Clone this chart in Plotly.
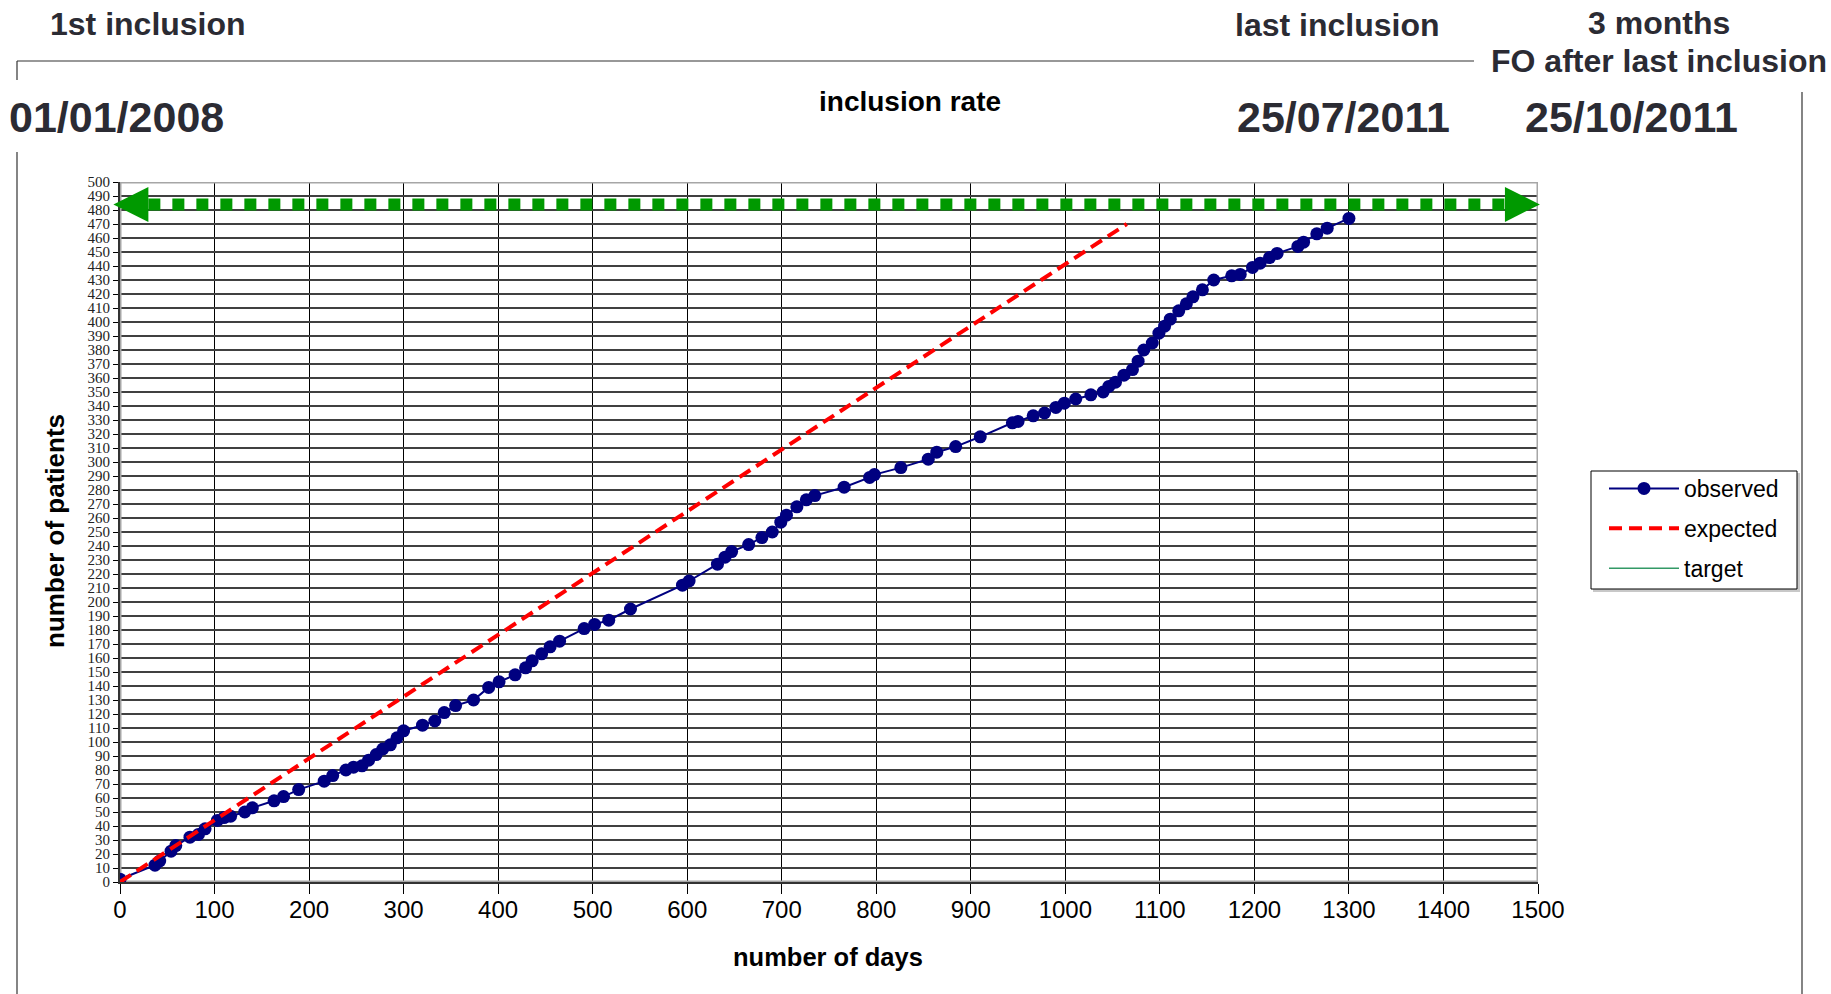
import plotly.graph_objects as go

# ---------------- data ----------------
obs_days = [0, 37, 42, 54, 59, 74, 83, 90, 103, 110, 117, 132, 140, 163, 173, 189,
            216, 225, 239, 247, 256, 263, 271, 278, 286, 293, 300, 320, 333, 343,
            355, 374, 390, 401, 418, 429, 436, 446, 455, 465, 491, 502, 517, 540,
            595, 602, 632, 640, 647, 665, 679, 690, 699, 705, 716, 726, 735, 766,
            793, 798, 826, 855, 864, 884, 910, 944, 950, 966, 978, 990, 999, 1011,
            1027, 1040, 1046, 1053, 1062, 1071, 1077, 1083, 1092, 1099, 1105, 1111,
            1120, 1128, 1135, 1145, 1157, 1176, 1185, 1198, 1206, 1216, 1224, 1246,
            1252, 1266, 1277, 1300]
obs_patients = [2, 12, 15, 22, 26, 32, 34, 38, 44, 46, 47, 50, 53, 58, 61, 66,
                72, 76, 80, 82, 83, 87, 91, 95, 98, 103, 108, 112, 115, 121,
                126, 130, 139, 143, 148, 153, 158, 163, 168, 172, 181, 184, 187, 195,
                212, 215, 227, 232, 236, 241, 246, 250, 257, 262, 268, 273, 276, 282,
                289, 291, 296, 302, 307, 311, 318, 328, 329, 333, 335, 339, 342, 345,
                348, 350, 354, 357, 362, 366, 372, 380, 385, 392, 397, 402,
                408, 413, 418, 423, 430, 433, 434, 439, 442, 446, 449, 454,
                457, 463, 467, 474]

exp_days = [0, 1065]
exp_patients = [0, 470]

target_level = 484            # level of the green "target" arrow
arrow_days = [-7, 1502]       # extent of the double arrow (tip to tip)
head_len_days = 37            # arrowhead length (days)
head_half = 12.5              # arrowhead half-height (patients)

x_range = [0, 1500]
y_range = [0, 500]
x_ticks = list(range(0, 1501, 100))
y_ticks = list(range(0, 501, 10))

# ---------------- layout helpers ----------------
W, H = 1831, 994
AL, AR = 100, 1560            # paper area (slightly wider than the axes)
PL, PR, PT, PB = 120, 1538, 182, 882   # axes box in pixels
days_per_px = (x_range[1] - x_range[0]) / (PR - PL)


def px(x):
    return (x - AL) / (AR - AL)


def py(y):
    return (PB - y) / (PB - PT)


SANS = "Liberation Sans, Arial, sans-serif"
SERIF = "Liberation Serif, Times New Roman, serif"
DARK = "#2b2b33"
GREEN = "#009900"

fig = go.Figure()

fig.add_trace(go.Scatter(
    x=obs_days, y=obs_patients, name="observed", mode="lines+markers",
    line=dict(color="#000080", width=2),
    marker=dict(color="#000080", size=13),
    legendgroup="a", legendrank=1))
fig.add_trace(go.Scatter(
    x=exp_days, y=exp_patients, name="expected", mode="lines",
    line=dict(color="#ff0000", width=4, dash="13px,7px"),
    legendgroup="b", legendrank=2))
fig.add_trace(go.Scatter(
    x=[None], y=[None], name="target", mode="lines",
    line=dict(color="#339966", width=1.5),
    legendgroup="c", legendrank=3))

# target double arrow (dotted thick line + two heads) on an overlay subplot
fig.add_trace(go.Scatter(
    x=[arrow_days[0] + head_len_days, arrow_days[1] - head_len_days],
    y=[target_level, target_level], xaxis="x2", yaxis="y2",
    mode="lines", line=dict(color=GREEN, width=12, dash="12px,12px"),
    showlegend=False, hoverinfo="skip"))
for tip, sgn in ((arrow_days[0], 1), (arrow_days[1], -1)):
    base = tip + sgn * head_len_days
    fig.add_trace(go.Scatter(
        x=[tip, base, base, tip],
        y=[target_level, target_level + head_half, target_level - head_half, target_level],
        xaxis="x2", yaxis="y2",
        mode="lines", fill="toself", fillcolor=GREEN, line=dict(color=GREEN, width=0),
        showlegend=False, hoverinfo="skip"))

shapes = [dict(type="rect", xref="x", yref="y", x0=x_range[0], x1=x_range[1],
               y0=y_range[0], y1=y_range[1],
               line=dict(color="#a6a6a6", width=3), layer="between")]
# legend frame (with a light shadow)
shapes.append(dict(type="rect", xref="paper", yref="paper",
                   x0=px(1593), x1=px(1800), y0=py(592), y1=py(473),
                   line=dict(width=0), fillcolor="#c8c8c8", layer="below"))
shapes.append(dict(type="rect", xref="paper", yref="paper",
                   x0=px(1591), x1=px(1797), y0=py(589), y1=py(471),
                   line=dict(color="#000000", width=1), fillcolor="white", layer="below"))
# page frame lines
frame = [((17, 61), (1474, 61)), ((17, 61), (17, 80)), ((17, 152), (17, 994)),
         ((1802, 92), (1802, 994))]
for (x0, y0), (x1, y1) in frame:
    shapes.append(dict(type="line", xref="paper", yref="paper",
                       x0=px(x0), y0=py(y0), x1=px(x1), y1=py(y1),
                       line=dict(color="#333333", width=1.2), layer="above"))

texts = [
    ("1st inclusion", 148, 24, 32, DARK),
    ("last inclusion", 1337, 25, 32, DARK),
    ("3 months", 1659, 23, 32, DARK),
    ("FO after last inclusion", 1659, 61, 32, DARK),
    ("01/01/2008", 116, 117, 43, DARK),
    ("25/07/2011", 1343, 117, 43, DARK),
    ("25/10/2011", 1631, 117, 43, DARK),
    ("inclusion rate", 910, 102, 28, "#000000"),
    ("number of days", 828, 957, 25.5, "#000000"),
]
annotations = []
for t, x, y, s, c in texts:
    annotations.append(dict(text="<b>%s</b>" % t, xref="paper", yref="paper",
                            x=px(x), y=py(y), xanchor="center", yanchor="middle",
                            showarrow=False, font=dict(family=SANS, size=s, color=c)))
annotations.append(dict(text="<b>number of patients</b>", xref="paper", yref="paper",
                        x=px(55), y=py(531), xanchor="center", yanchor="middle",
                        textangle=-90, showarrow=False,
                        font=dict(family=SANS, size=26, color="#000000")))

fig.update_layout(
    width=W, height=H,
    margin=dict(l=AL, r=W - AR, t=PT, b=H - PB, pad=0),
    paper_bgcolor="white", plot_bgcolor="rgba(0,0,0,0)",
    showlegend=True,
    legend=dict(x=px(1604), y=py(467), xanchor="left", yanchor="top",
                bgcolor="rgba(0,0,0,0)", borderwidth=0,
                font=dict(family=SANS, size=23, color="#000000"),
                tracegroupgap=7, itemwidth=70),
    shapes=shapes,
    annotations=annotations,
    xaxis=dict(domain=[(PL - AL) / (AR - AL), (PR - AL) / (AR - AL)],
               range=x_range, tickvals=x_ticks, showgrid=True,
               gridcolor="#000000", gridwidth=1, zeroline=False,
               ticks="outside", ticklen=10, tickcolor="#000000", tickwidth=1,
               ticklabelstandoff=-5,
               showline=True, linecolor="#333333", linewidth=2,
               tickfont=dict(family=SANS, size=24, color="#000000")),
    yaxis=dict(range=y_range, tickvals=y_ticks, showgrid=True,
               gridcolor="#404040", gridwidth=1.5, zeroline=False,
               ticks="outside", ticklen=5, tickcolor="#000000", tickwidth=1,
               showline=True, linecolor="#333333", linewidth=2,
               tickfont=dict(family=SERIF, size=15, color="#222222")),
    xaxis2=dict(domain=[0, 1], anchor="y2", visible=False,
                range=[x_range[0] - (PL - AL) * days_per_px,
                       x_range[1] + (AR - PR) * days_per_px]),
    yaxis2=dict(domain=[0, 1], anchor="x2", visible=False, range=y_range),
)

fig.write_html("out.html")
